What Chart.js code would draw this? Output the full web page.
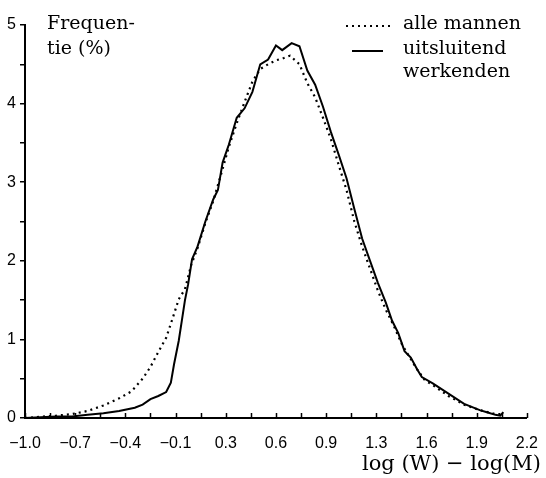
<!DOCTYPE html>
<html>
<head>
<meta charset="utf-8">
<script src="https://cdn.jsdelivr.net/npm/chart.js@4/dist/chart.umd.min.js"></script>
<style>
  html, body { margin: 0; padding: 0; background: #fff; }
  #wrap { width: 546px; height: 478px; }
</style>
</head>
<body>
<div id="wrap"><canvas id="freqChart" width="546" height="478"></canvas></div>
<script>
// x positions on the log(W) - log(M) axis
const xWerkenden = [-1.0, -0.9, -0.8, -0.7, -0.6, -0.5, -0.4, -0.3, -0.25, -0.2, -0.15, -0.1, -0.07, -0.05, -0.02, 0.0, 0.02, 0.04, 0.065, 0.1, 0.15, 0.2, 0.23, 0.26, 0.3, 0.35, 0.4, 0.45, 0.5, 0.55, 0.6, 0.64, 0.7, 0.75, 0.8, 0.85, 0.9, 0.95, 1.0, 1.05, 1.1, 1.15, 1.2, 1.25, 1.3, 1.34, 1.38, 1.42, 1.46, 1.5, 1.53, 1.6, 1.7, 1.8, 1.9, 1.95, 2.0, 2.03, 2.05];
const yWerkenden = [0.0, 0.01, 0.02, 0.02, 0.04, 0.06, 0.09, 0.13, 0.17, 0.24, 0.28, 0.33, 0.45, 0.68, 0.98, 1.24, 1.5, 1.7, 2.02, 2.18, 2.5, 2.78, 2.9, 3.25, 3.48, 3.82, 3.94, 4.15, 4.5, 4.56, 4.74, 4.68, 4.77, 4.73, 4.42, 4.24, 3.96, 3.64, 3.35, 3.05, 2.66, 2.28, 2.0, 1.72, 1.47, 1.24, 1.08, 0.85, 0.77, 0.62, 0.52, 0.44, 0.31, 0.18, 0.1, 0.07, 0.04, 0.03, 0.075];

const xAlle = [-1.0, -0.9, -0.8, -0.7, -0.6, -0.5, -0.4, -0.32, -0.25, -0.2, -0.15, -0.1, -0.06, -0.02, 0.02, 0.06, 0.1, 0.15, 0.2, 0.25, 0.3, 0.35, 0.4, 0.45, 0.5, 0.55, 0.6, 0.65, 0.69, 0.75, 0.8, 0.85, 0.9, 0.95, 1.0, 1.05, 1.1, 1.15, 1.2, 1.25, 1.3, 1.35, 1.4, 1.45, 1.5, 1.55, 1.6, 1.7, 1.8, 1.9, 2.0, 2.05];
const yAlle = [0.0, 0.017, 0.03, 0.05, 0.09, 0.16, 0.25, 0.34, 0.5, 0.65, 0.84, 1.02, 1.26, 1.51, 1.64, 1.95, 2.16, 2.48, 2.76, 3.1, 3.45, 3.75, 4.02, 4.28, 4.44, 4.5, 4.55, 4.58, 4.61, 4.5, 4.26, 4.08, 3.82, 3.55, 3.22, 2.9, 2.5, 2.18, 1.9, 1.62, 1.38, 1.18, 0.95, 0.78, 0.62, 0.48, 0.42, 0.28, 0.17, 0.1, 0.05, 0.05];

// printed labels under every second tick (ticks are 0.16 apart)
const xTickLabels = ['\u22121.0', '\u22120.7', '\u22120.4', '\u22120.1', '0.3', '0.6', '0.9', '1.3', '1.6', '1.9', '2.2'];

const toPoints = (xs, ys) => xs.map((x, i) => ({ x: x, y: ys[i] }));

// upward x ticks, side texts and legend
const decorations = {
  id: 'decorations',
  afterDraw(chart) {
    const ctx = chart.ctx;
    const xs = chart.scales.x;
    const bottom = chart.chartArea.bottom;
    ctx.save();
    ctx.strokeStyle = '#000';
    ctx.lineWidth = 1.5;
    xs.ticks.forEach(t => {
      const px = Math.round(xs.getPixelForValue(t.value)) + 0.5;
      ctx.beginPath();
      ctx.moveTo(px, bottom);
      ctx.lineTo(px, bottom - 5);
      ctx.stroke();
    });

    ctx.fillStyle = '#000';
    ctx.font = '19px "DejaVu Serif"';
    ctx.textBaseline = 'alphabetic';
    ctx.textAlign = 'left';
    ctx.fillText('Frequen-', 47, 29);
    ctx.fillText('tie (%)', 47, 54);
    ctx.fillText('alle mannen', 403, 29);
    ctx.fillText('uitsluitend', 403, 54);
    ctx.fillText('werkenden', 403, 77);

    // legend samples
    ctx.lineWidth = 2;
    ctx.setLineDash([2, 4]);
    ctx.beginPath();
    ctx.moveTo(346, 26);
    ctx.lineTo(392, 26);
    ctx.stroke();
    ctx.setLineDash([]);
    ctx.beginPath();
    ctx.moveTo(352, 51);
    ctx.lineTo(383, 51);
    ctx.stroke();

    ctx.font = '21px "DejaVu Serif"';
    ctx.textAlign = 'right';
    ctx.fillText('log (W) \u2212 log(M)', 541, 470);
    ctx.restore();
  }
};

new Chart(document.getElementById('freqChart'), {
  type: 'line',
  data: {
    datasets: [
      {
        label: 'alle mannen',
        data: toPoints(xAlle, yAlle),
        borderColor: '#000',
        borderWidth: 2.2,
        borderDash: [2, 4],
        pointRadius: 0,
        tension: 0
      },
      {
        label: 'uitsluitend werkenden',
        data: toPoints(xWerkenden, yWerkenden),
        borderColor: '#000',
        borderWidth: 2,
        pointRadius: 0,
        tension: 0
      }
    ]
  },
  options: {
    responsive: false,
    animation: false,
    layout: { padding: { top: 25, right: 16, left: 0, bottom: 0 } },
    plugins: {
      legend: { display: false },
      tooltip: { enabled: false }
    },
    scales: {
      x: {
        type: 'linear',
        min: -1.0,
        max: 2.2,
        afterFit: s => { s.height = 60; },
        afterBuildTicks: s => {
          s.ticks = Array.from({ length: 21 }, (_, i) => ({ value: -1.0 + i * 0.16 }));
        },
        border: { display: true, color: '#000', width: 2 },
        grid: { display: false },
        ticks: {
          autoSkip: false,
          maxRotation: 0,
          padding: 8,
          color: '#000',
          font: { family: '"Liberation Sans"', size: 16 },
          callback: (v, i) => (i % 2 === 0 ? xTickLabels[i / 2] : '')
        }
      },
      y: {
        min: 0,
        max: 5,
        afterFit: s => { s.width = 25; },
        border: { display: true, color: '#000', width: 2 },
        grid: { drawOnChartArea: false, drawTicks: true, tickLength: 5, color: '#000', lineWidth: 1.5 },
        ticks: {
          stepSize: 0.5,
          padding: 4,
          color: '#000',
          font: { family: '"Liberation Sans"', size: 16 },
          callback: v => (Number.isInteger(v) ? String(v) : '')
        }
      }
    }
  },
  plugins: [decorations]
});
</script>
</body>
</html>
